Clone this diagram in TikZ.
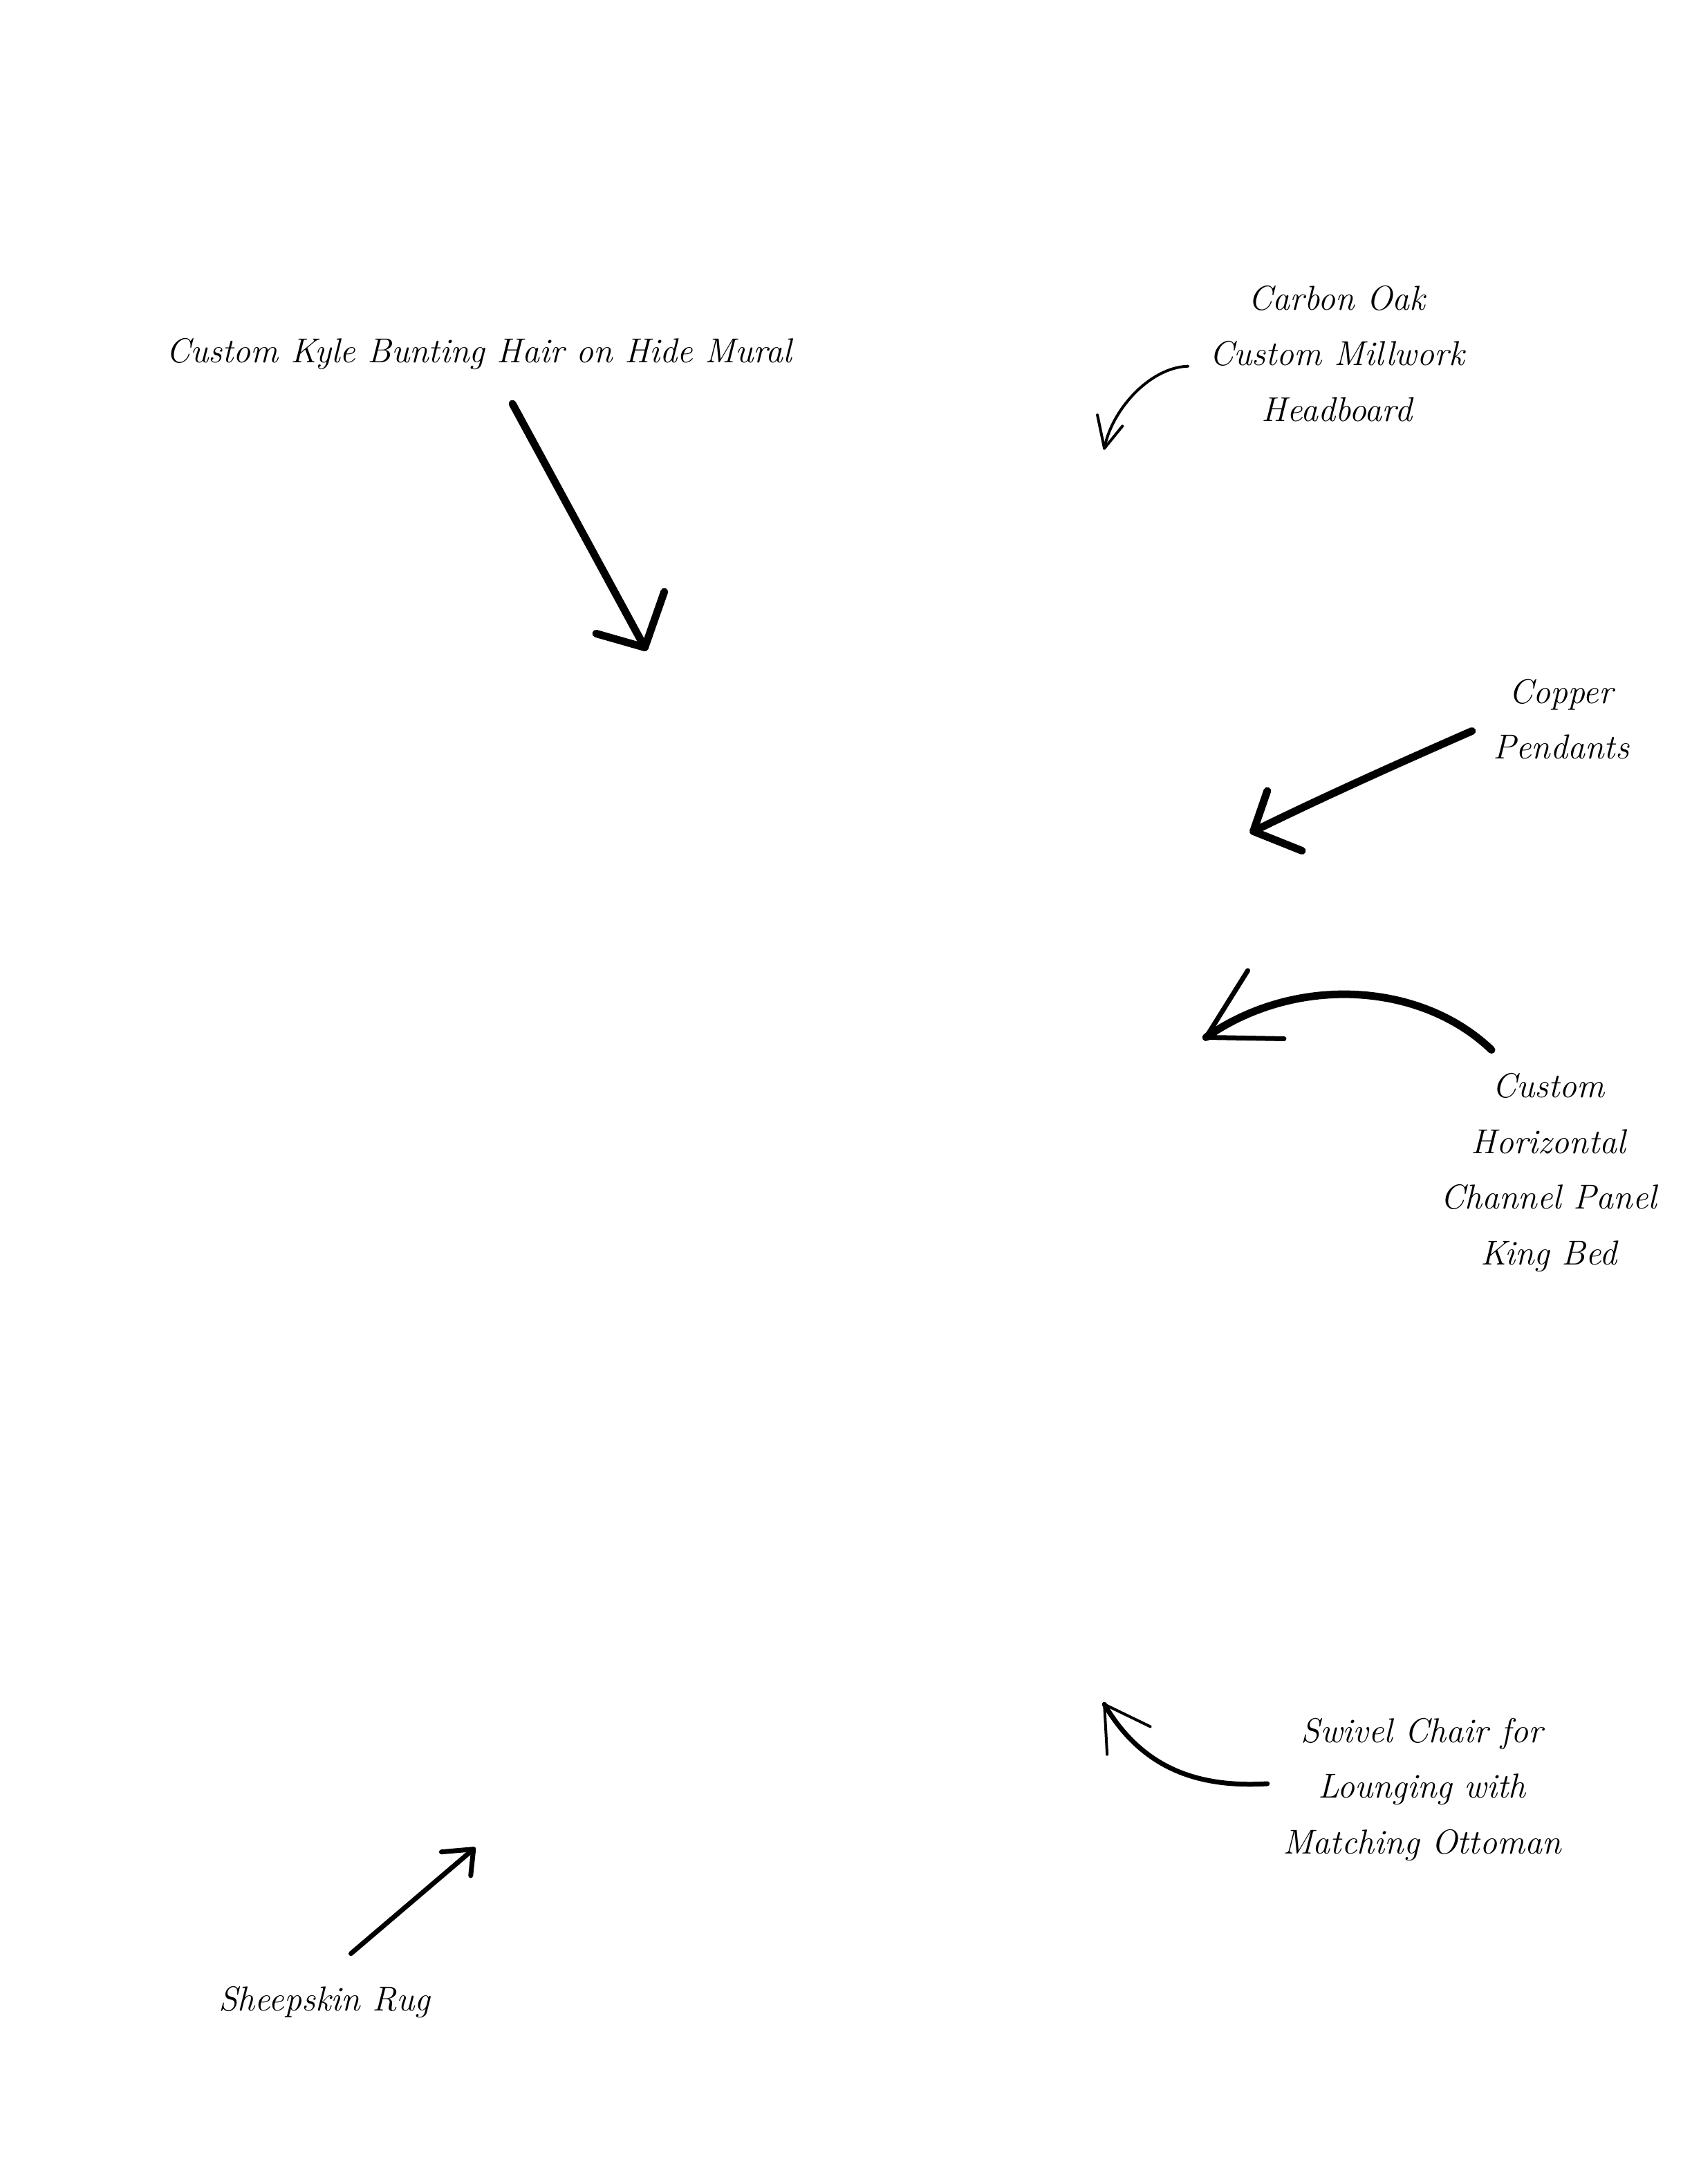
\documentclass[tikz,border=0pt]{standalone}
\usepackage{graphicx}
\begin{document}
\begin{tikzpicture}[x=1.007pt,y=-1.007pt,
  txt/.style={font=\fontsize{50}{80.5}\selectfont\itshape, align=center, inner sep=0pt},
  heavy/.style={line width=11pt,line cap=round,line join=round},
  medium/.style={line width=7pt,line cap=round,line join=round},
  light/.style={line width=4pt,line cap=round,line join=round}]
\useasboundingbox (0,0) rectangle (2429,3137);
\fill[white] (0,0) rectangle (2429,3137);

% 1 mural
\node[txt] (mural) at (688,508) {Custom Kyle Bunting Hair on Hide Mural};
\coordinate (a1s) at (736,580);
\coordinate (a1t) at (926,930);
\coordinate (a1l) at (856,910);
\coordinate (a1r) at (954,850);
\draw[heavy] (a1s) -- (a1t);
\draw[heavy] (a1l) -- (a1t) -- (a1r);

% 2 headboard
\node[txt] (head) at (1920,508) {Carbon Oak\\Custom Millwork\\Headboard};
\coordinate (a2s) at (1706,526);
\coordinate (a2t) at (1586,644);
\coordinate (a2l) at (1576,596);
\coordinate (a2r) at (1612,612);
\draw[light] (a2s) .. controls (1650,528) and (1596,590) .. (a2t);
\draw[light] (a2l) -- (a2t) -- (a2r);

% 3 pendants
\node[txt] (pend) at (2242,1033) {Copper\\Pendants};
\coordinate (a3s) at (2114,1050);
\coordinate (a3t) at (1800,1194);
\coordinate (a3l) at (1820,1136);
\coordinate (a3r) at (1870,1222);
\draw[heavy] (a3s) .. controls (2000,1100) and (1900,1145) .. (a3t);
\draw[heavy] (a3l) -- (a3t) -- (a3r);

% 4 bed
\node[txt] (bed) at (2224,1684) {Custom\\Horizontal\\Channel Panel\\King Bed};
\coordinate (a4s) at (2142,1508);
\coordinate (a4t) at (1732,1490);
\coordinate (a4l) at (1792,1394);
\coordinate (a4r) at (1844,1492);
\draw[heavy] (a4s) .. controls (2040,1410) and (1860,1400) .. (a4t);
\draw[medium] (a4l) -- (a4t) -- (a4r);

% 5 swivel chair
\node[txt] (chair) at (2042,2570) {Swivel Chair for\\Lounging with\\Matching Ottoman};
\coordinate (a5s) at (1820,2562);
\coordinate (a5t) at (1586,2448);
\coordinate (a5l) at (1590,2520);
\coordinate (a5r) at (1652,2480);
\draw[medium] (a5s) .. controls (1720,2568) and (1640,2540) .. (a5t);
\draw[light] (a5l) -- (a5t) -- (a5r);

% 6 rug
\node[txt] (rug) at (466,2876) {Sheepskin Rug};
\coordinate (a6s) at (504,2806);
\coordinate (a6t) at (680,2656);
\coordinate (a6l) at (634,2660);
\coordinate (a6r) at (676,2694);
\draw[medium] (a6s) -- (a6t);
\draw[medium] (a6l) -- (a6t) -- (a6r);
\end{tikzpicture}
\end{document}
